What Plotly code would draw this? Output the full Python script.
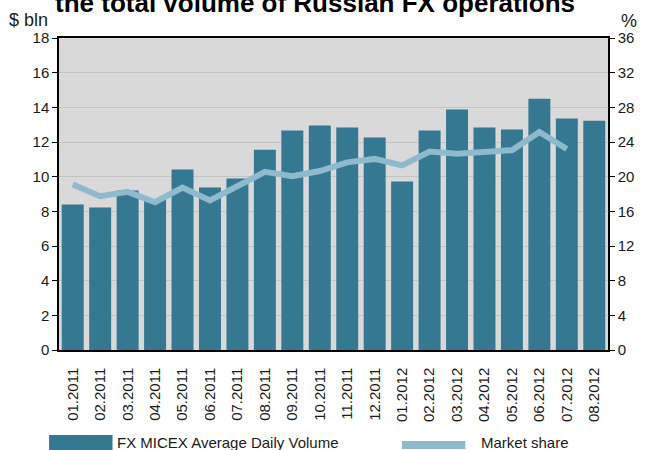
import plotly.graph_objects as go

months = ["01.2011", "02.2011", "03.2011", "04.2011", "05.2011", "06.2011", "07.2011",
          "08.2011", "09.2011", "10.2011", "11.2011", "12.2011", "01.2012", "02.2012",
          "03.2012", "04.2012", "05.2012", "06.2012", "07.2012", "08.2012"]
volume = [8.39, 8.22, 9.20, 8.68, 10.41, 9.37, 9.89, 11.56, 12.66, 12.95,
          12.83, 12.26, 9.72, 12.66, 13.87, 12.83, 12.72, 14.50, 13.35, 13.23]
share = [19.1, 17.75, 18.25, 17.05, 18.75, 17.25, 18.9, 20.55, 20.05, 20.65,
         21.65, 22.05, 21.3, 22.9, 22.65, 22.8, 23.05, 25.15, 23.2, None]
left_ticks = list(range(0, 19, 2))
right_ticks = list(range(0, 37, 4))

BAR = "#357891"
LINE = "#8fb9cc"
BG = "#d9d9d9"
GRID = "#c4c4c4"
TXT = "#1a1a1a"
REG = "Liberation Sans, Arial, sans-serif"

W, H = 646, 450
L, R, T, B = 59, 33, 38, 100
pw, ph = W - L - R, H - T - B

def px(x):
    return (x - L) / pw

def py(y):
    return (H - B - y) / ph

fig = go.Figure()
fig.add_trace(go.Bar(x=months, y=volume, marker=dict(color=BAR, line=dict(width=0)),
                     name="FX MICEX Average Daily Volume", showlegend=False))
fig.add_trace(go.Scatter(x=months, y=share, yaxis="y2", mode="lines",
                         line=dict(color=LINE, width=6), name="Market share",
                         showlegend=False, connectgaps=False))

fig.update_layout(
    width=W, height=H,
    margin=dict(l=L, r=R, t=T, b=B, pad=0),
    paper_bgcolor="white", plot_bgcolor=BG,
    bargap=0.2,
    xaxis=dict(type="category", showline=True, linecolor="black", linewidth=1.5,
               mirror=True, ticks="", tickangle=-90, ticklabelstandoff=10,
               tickfont=dict(family=REG, size=15, color=TXT), showgrid=False),
    xaxis2=dict(overlaying="x", anchor="y", range=[0, 19], dtick=1, tick0=0,
                ticks="outside", ticklen=5, tickcolor="black", showticklabels=False,
                showgrid=False, zeroline=False, showline=False, side="bottom"),
    yaxis=dict(range=[0, 18], tickvals=left_ticks, ticks="outside", ticklen=5,
               tickcolor="black", showline=True, linecolor="black", linewidth=1.5,
               showgrid=True, gridcolor=GRID, gridwidth=1, zeroline=False,
               tickfont=dict(family=REG, size=15, color=TXT)),
    yaxis2=dict(range=[0, 36], tickvals=right_ticks, overlaying="y", side="right",
                ticks="outside", ticklen=5, tickcolor="black", showline=True,
                linecolor="black", linewidth=1.5, showgrid=False, zeroline=False,
                tickfont=dict(family=REG, size=15, color=TXT)),
    showlegend=False,
)

annotations = [
    dict(text="<b>the total volume of Russian FX operations</b>", x=px(317), y=py(3),
         xref="paper", yref="paper", xanchor="center", yanchor="middle", showarrow=False,
         font=dict(family=REG, size=26, color="black")),
    dict(text="$ bln", x=px(7), y=py(20), xref="paper", yref="paper", xanchor="left",
         yanchor="middle", showarrow=False, font=dict(family=REG, size=18, color=TXT)),
    dict(text="%", x=px(624), y=py(21), xref="paper", yref="paper", xanchor="left",
         yanchor="middle", showarrow=False, font=dict(family=REG, size=18, color=TXT)),
    dict(text="FX MICEX Average Daily Volume", x=px(116), y=py(442), xref="paper",
         yref="paper", xanchor="left", yanchor="middle", showarrow=False,
         font=dict(family=REG, size=15, color=TXT)),
    dict(text="Market share", x=px(483), y=py(442), xref="paper", yref="paper",
         xanchor="left", yanchor="middle", showarrow=False,
         font=dict(family=REG, size=15, color=TXT)),
]
fig.update_layout(annotations=annotations)

shapes = [
    dict(type="rect", xref="paper", yref="paper", x0=px(49), x1=px(113), y0=py(455), y1=py(435),
         fillcolor=BAR, line=dict(width=0)),
    dict(type="rect", xref="paper", yref="paper", x0=px(405), x1=px(469), y0=py(449), y1=py(441),
         fillcolor=LINE, line=dict(width=0)),
]
fig.update_layout(shapes=shapes)

fig.write_html("out.html", config={"displayModeBar": False},
               post_script="document.body.style.margin='0';document.body.style.overflow='hidden';")
